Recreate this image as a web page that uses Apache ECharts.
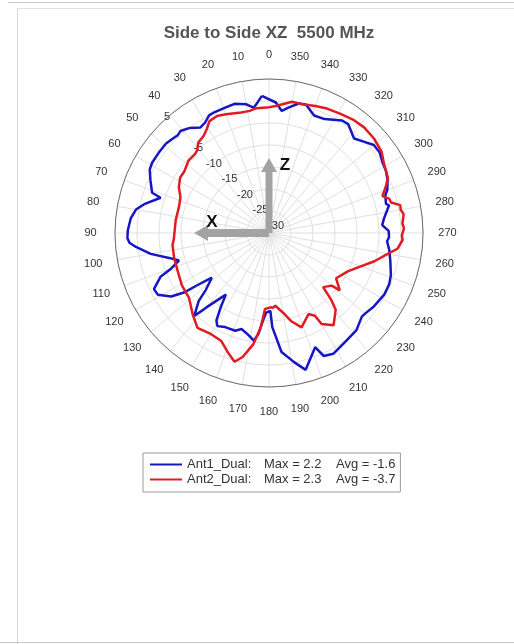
<!DOCTYPE html>
<html>
<head>
<meta charset="utf-8">
<script src="https://cdn.jsdelivr.net/npm/echarts@6/dist/echarts.min.js"></script>
<style>
  html, body { margin: 0; padding: 0; background: #ffffff; }
  #chart { width: 514px; height: 644px; }
</style>
</head>
<body>
<div id="chart"></div>
<script>
// Antenna pattern, XZ cut at 5500 MHz (gain in dBi vs. angle in degrees)
const titleText = 'Side to Side XZ  5500 MHz';
const seriesNames = ['Ant1_Dual', 'Ant2_Dual'];
const maxValues = [2.2, 2.3];
const avgValues = [-1.6, -3.7];

const angles1 = [3,5,7,10,15,19,25,27,30,33,37,41,43,46,49,54,59,62,66,71,72,73,77,80,84,89,92,94,96,100,104,107,110,112,116,119,123,125,126,128,132,134,138,140,145,147,149,151,155,161,164,168,172,174,176,178,181,182,186,191,195,202,204,208,215,222,228,230,235,242,247,251,257,262,266,268,271,274,277,278,283,284,288,290,294,298,302,306,310,314,318,324,327,334,339,344,347,351,354,357];
const gain1 = [1.2,-0.2,-1.3,-0.3,0.4,0.2,0.1,0.0,-1.0,-1.4,-0.1,0.7,0.4,0.7,1.0,1.0,1.0,0.7,-0.5,-1.9,-4.1,-3.9,-0.9,0.7,1.6,2.1,2.2,1.8,0.4,-2.7,-6.6,-8.6,-6.3,-3.4,-0.9,-1.1,-3.5,-6.4,-9.7,-13.5,-10.7,-7.8,-4.6,-8.0,-12.9,-9.8,-6.8,-5.8,-6.4,-6.5,-7.3,-6.5,-5.3,-6.9,-10.0,-11.9,-12.3,-8.6,-2.8,-0.1,2.2,-2.0,0.6,1.1,0.2,-0.3,-1.6,-1.5,-0.9,-0.3,-0.3,-0.7,-1.7,-2.4,-3.1,-2.7,-2.8,-4.2,-3.7,-3.9,-2.0,-2.6,-2.2,-1.4,-0.5,0.1,0.4,1.1,1.1,-0.1,-1.1,0.6,0.5,-1.2,-1.4,0.4,0.2,-1.1,-2.1,-0.3];

const angles2 = [1,6,9,13,20,24,28,31,34,38,41,43,48,54,58,63,68,74,82,94,97,105,113,121,129,137,143,150,156,161,165,168,172,175,177,181,183,185,190,194,199,206,209,210,215,221,223,225,230,231,236,244,250,255,260,263,267,269,272,274,278,280,282,284,286,288,292,295,301,306,312,318,323,329,335,340,346,350,357];
const gain2 = [-1.5,-1.5,-1.9,-1.9,-1.3,-0.9,-1.2,-2.5,-3.4,-3.9,-5.1,-5.4,-5.4,-6.2,-6.2,-7.0,-8.3,-8.7,-8.6,-8.3,-7.9,-7.7,-7.5,-6.9,-6.6,-4.6,-3.0,-3.5,-3.2,-1.3,0.3,-1.2,-4.5,-8.5,-12.7,-13.1,-13.0,-13.4,-11.6,-9.4,-7.3,-9.5,-8.5,-6.1,-4.4,-6.9,-9.3,-12.6,-11.4,-9.3,-11.6,-10.1,-7.8,-5.2,-2.6,-0.6,0.4,0.2,0.7,0.4,0.9,0.4,0.5,-1.4,-1.6,-2.9,-1.3,-0.2,0.5,1.6,2.1,2.3,2.1,1.6,1.2,0.7,0.2,0.3,-1.1];

// angle tick labels (degrees) around the rim
const angleTickLabels = [0,10,20,30,40,50,60,70,80,90,100,110,120,130,140,150,160,170,180,190,200,210,220,230,240,250,260,270,280,290,300,310,320,330,340,350];

// radial scale (dB) and the ring values that carry a label
const radiusMin = -30;
const radiusMax = 5;
const radiusStep = 5;
const radialTickLabels = [-30, -25, -20, -15, -10, -5, 5];

const colors = ['#1616c4', '#e01c22'];

const CX = 269, CY = 233, R = 154;
const LABEL_GAP = 24.5;   // rim to angle-label centre, px

// closed polar trace: [radius, angle] pairs, first point repeated at the end
function trace(angles, gains) {
  const pts = angles.map((a, i) => [gains[i], a]);
  pts.push(pts[0].slice());
  return pts;
}

const chart = echarts.init(document.getElementById('chart'), null, { renderer: 'canvas' });

const grey = '#a3a3a3';
const FONT = '"Liberation Sans", Arial, sans-serif';
const graphics = [
  // page frame
  { type: 'line', shape: { x1: 8, y1: 2.5, x2: 514, y2: 2.5 }, style: { stroke: '#c9c9c9', lineWidth: 1 }, silent: true },
  { type: 'line', shape: { x1: 17.5, y1: 8.5, x2: 514, y2: 8.5 }, style: { stroke: '#dedede', lineWidth: 1 }, silent: true },
  { type: 'line', shape: { x1: 17.5, y1: 8.5, x2: 17.5, y2: 644 }, style: { stroke: '#d6d6d6', lineWidth: 1 }, silent: true },
  { type: 'line', shape: { x1: 0, y1: 642.5, x2: 514, y2: 642.5 }, style: { stroke: '#c9c9c9', lineWidth: 1 }, silent: true },
  // Z axis arrow
  { type: 'rect', z: 50, shape: { x: CX - 3.5, y: CY - 61, width: 7, height: 61 }, style: { fill: grey }, silent: true },
  { type: 'polygon', z: 50, shape: { points: [[CX - 8, CY - 61], [CX + 8, CY - 61], [CX, CY - 75]] }, style: { fill: grey }, silent: true },
  // X axis arrow
  { type: 'rect', z: 50, shape: { x: CX - 61, y: CY - 4, width: 61, height: 8 }, style: { fill: grey }, silent: true },
  { type: 'polygon', z: 50, shape: { points: [[CX - 61, CY - 8], [CX - 61, CY + 8], [CX - 75, CY]] }, style: { fill: grey }, silent: true },
  { type: 'text', z: 51, x: CX + 16, y: CY - 68, style: { text: 'Z', font: 'bold 17px ' + FONT, fill: '#111', textAlign: 'center', textVerticalAlign: 'middle' }, silent: true },
  { type: 'text', z: 51, x: CX - 57, y: CY - 11, style: { text: 'X', font: 'bold 17px ' + FONT, fill: '#111', textAlign: 'center', textVerticalAlign: 'middle' }, silent: true }
];

const option = {
  backgroundColor: '#ffffff',
  animation: false,
  textStyle: { fontFamily: FONT },
  title: {
    text: titleText,
    left: CX,
    textAlign: 'center',
    top: 25,
    padding: 0,
    textStyle: { fontSize: 17, fontWeight: 'bold', color: '#555555', fontFamily: FONT }
  },
  legend: {
    orient: 'vertical',
    left: 143,
    top: 453,
    padding: [5, 5, 6, 7],
    itemGap: 2,
    itemWidth: 32,
    itemHeight: 15,
    borderColor: '#9a9a9a',
    borderWidth: 1,
    backgroundColor: '#ffffff',
    data: seriesNames.map(n => ({ name: n, icon: 'path://M0,6 L32,6 L32,8 L0,8 Z' })),
    formatter: function (name) {
      const i = seriesNames.indexOf(name);
      return '{n|' + name + ':}{m|Max = ' + maxValues[i].toFixed(1) + '}{a|Avg = ' + avgValues[i].toFixed(1) + '}';
    },
    textStyle: {
      color: '#333',
      fontSize: 13,
      rich: {
        n: { width: 77, fontSize: 13, color: '#333' },
        m: { width: 72, fontSize: 13, color: '#333' },
        a: { fontSize: 13, color: '#333' }
      }
    }
  },
  polar: [
    { center: [CX, CY], radius: R },
    { center: [CX, CY], radius: R }
  ],
  angleAxis: [
    {
      polarIndex: 0,
      type: 'value',
      min: 0,
      max: 360,
      interval: 10,
      startAngle: 90,
      clockwise: false,
      axisLine: { show: true, lineStyle: { color: '#6e6e6e', width: 1 } },
      axisTick: { show: false },
      axisLabel: { show: false },
      splitLine: { show: true, lineStyle: { color: '#e0e0e0', width: 1 } }
    },
    {
      // carries the radial labels along the 45° spoke
      polarIndex: 1,
      type: 'value',
      min: 0,
      max: 360,
      startAngle: 135,
      show: false
    }
  ],
  radiusAxis: [
    {
      polarIndex: 0,
      type: 'value',
      min: radiusMin,
      max: radiusMax,
      interval: radiusStep,
      axisLine: { show: false },
      axisTick: { show: false },
      axisLabel: { show: false },
      splitLine: { show: true, lineStyle: { color: '#e0e0e0', width: 1 } }
    },
    {
      polarIndex: 1,
      type: 'value',
      min: radiusMin,
      max: radiusMax,
      interval: radiusStep,
      axisLine: { show: false },
      axisTick: { show: false },
      splitLine: { show: false },
      axisLabel: {
        show: true,
        margin: -10,
        align: 'center',
        verticalAlign: 'middle',
        color: '#333',
        fontSize: 11,
        formatter: v => (radialTickLabels.indexOf(v) >= 0 ? String(v) : '')
      }
    }
  ],
  series: [
    {
      name: seriesNames[0],
      type: 'line',
      coordinateSystem: 'polar',
      polarIndex: 0,
      data: trace(angles1, gain1),
      symbol: 'none',
      lineStyle: { color: colors[0], width: 2.5 },
      itemStyle: { color: colors[0] },
      z: 10
    },
    {
      name: seriesNames[1],
      type: 'line',
      coordinateSystem: 'polar',
      polarIndex: 0,
      data: trace(angles2, gain2),
      symbol: 'none',
      lineStyle: { color: colors[1], width: 2.5 },
      itemStyle: { color: colors[1] },
      z: 11
    }
  ],
  graphic: graphics
};

chart.setOption(option);

// angle labels, centred on their spokes just outside the rim
const centre = chart.convertToPixel({ seriesIndex: 0 }, [radiusMin, 0]);
const angleLabels = angleTickLabels.map(function (a) {
  const rim = chart.convertToPixel({ seriesIndex: 0 }, [radiusMax, a]);
  let x, y;
  if (centre && rim && isFinite(rim[0]) && isFinite(centre[0])) {
    const k = (R + LABEL_GAP) / R;
    x = centre[0] + (rim[0] - centre[0]) * k;
    y = centre[1] + (rim[1] - centre[1]) * k;
  } else {
    const t = a * Math.PI / 180;
    x = CX - (R + LABEL_GAP) * Math.sin(t);
    y = CY - (R + LABEL_GAP) * Math.cos(t);
  }
  return {
    type: 'text', x: x, y: y, silent: true,
    style: { text: String(a), font: '11px ' + FONT, fill: '#333', textAlign: 'center', textVerticalAlign: 'middle' }
  };
});
chart.setOption({ graphic: graphics.concat(angleLabels) });
</script>
</body>
</html>
